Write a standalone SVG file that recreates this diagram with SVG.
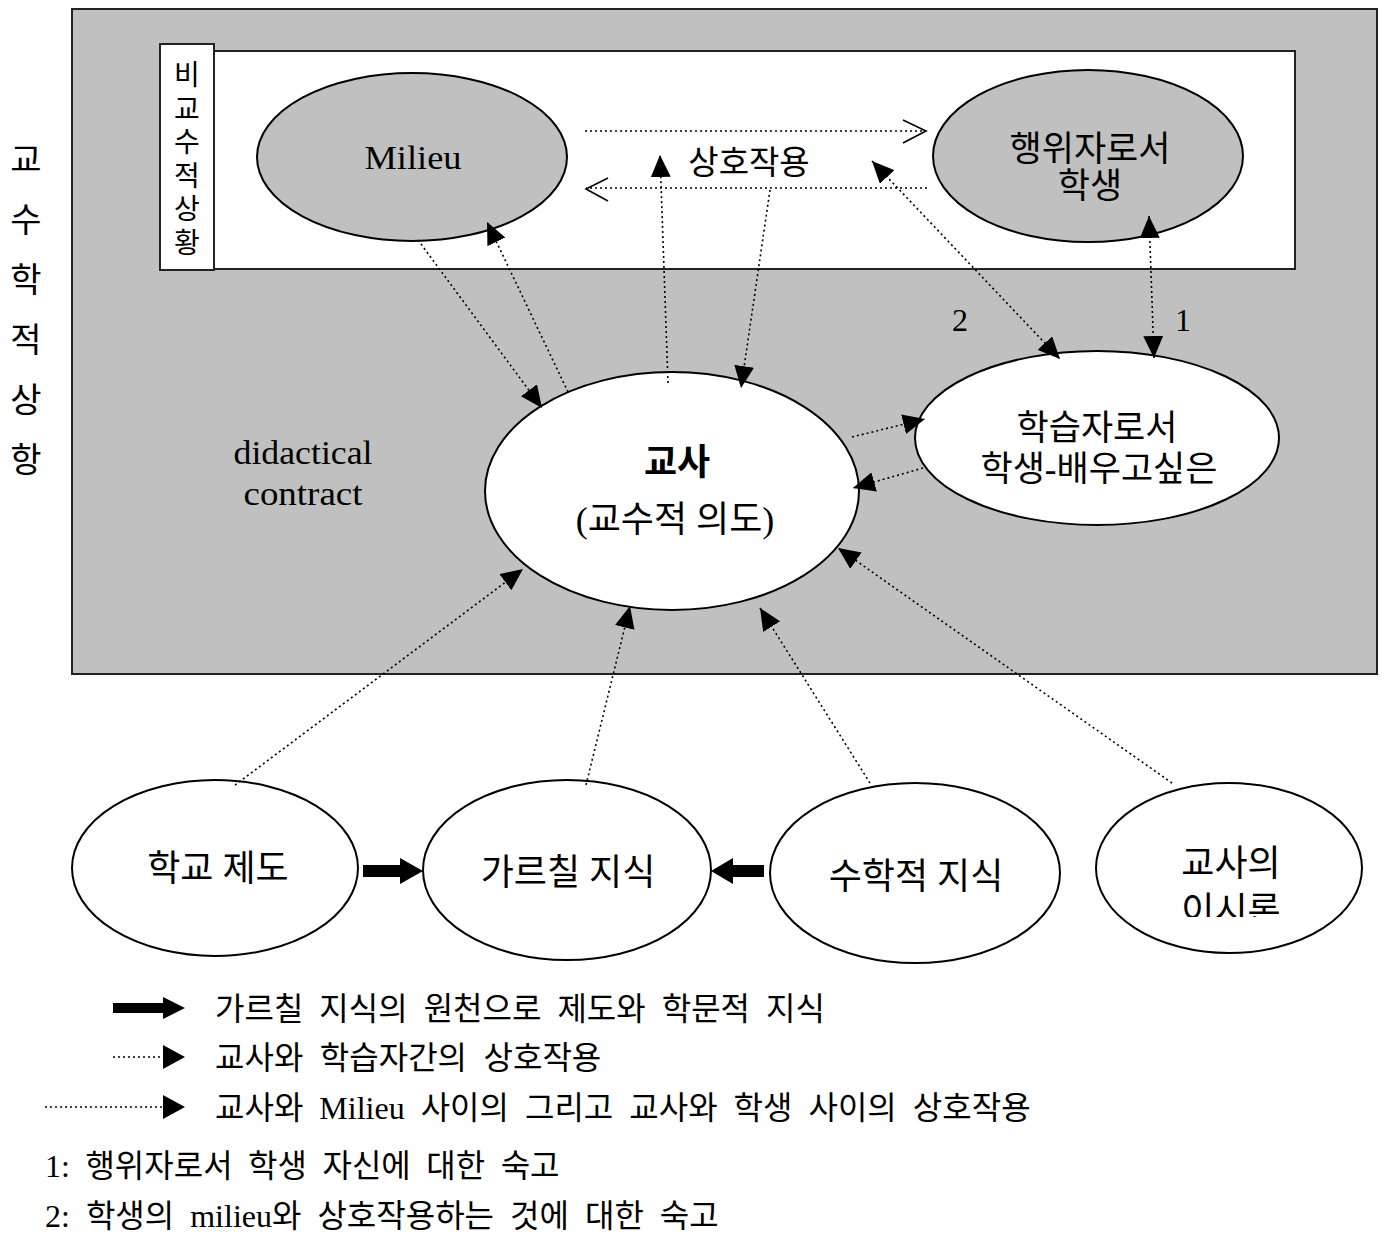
<svg xmlns="http://www.w3.org/2000/svg" width="1385" height="1239" viewBox="0 0 1385 1239">
<style>
text{font-family:"Liberation Serif","Noto Sans CJK KR",serif;fill:#000}
.t32{font-size:32px}
.t34{font-size:34px}
.t35{font-size:35px}
.t36{font-size:36px}
.mid{text-anchor:middle}
.dot{fill:none;stroke:#000;stroke-width:1.6;stroke-dasharray:2 3}
.ell{stroke:#000;stroke-width:2}
.g{fill:#c0c0c0}
.w{fill:#fff}
.solid{fill:#000;stroke:none}
.open{fill:none;stroke:#000;stroke-width:1.6}
.vt{font-size:28px;text-anchor:middle}
</style>
<defs>
<marker id="ah" viewBox="0 0 22 20" refX="22" refY="10" markerWidth="22" markerHeight="20" markerUnits="userSpaceOnUse" orient="auto-start-reverse">
<path d="M0,0 L22,10 L0,20 z" fill="#000"/>
</marker>
<clipPath id="clipR"><rect x="1100" y="880" width="260" height="37"/></clipPath>
</defs>
<rect width="1385" height="1239" fill="#fff"/>

<g id="title-left">
<text class="t34 mid" x="26" y="172">교</text>
<text class="t34 mid" x="26" y="232">수</text>
<text class="t34 mid" x="26" y="292">학</text>
<text class="t34 mid" x="26" y="352">적</text>
<text class="t34 mid" x="26" y="412">상</text>
<text class="t34 mid" x="26" y="472">항</text>
</g>

<g id="didactic-situation">
<rect x="72" y="9" width="1305" height="665" fill="#c0c0c0" stroke="#222" stroke-width="2"/>
</g>

<g id="adidactic-situation">
<rect x="213" y="51" width="1082" height="218" fill="#fff" stroke="#222" stroke-width="2"/>
<rect x="160" y="44" width="54" height="226" fill="#fff" stroke="#222" stroke-width="2"/>
<text class="vt" x="187" y="85">비</text>
<text class="vt" x="187" y="118.5">교</text>
<text class="vt" x="187" y="152">수</text>
<text class="vt" x="187" y="185.5">적</text>
<text class="vt" x="187" y="219">상</text>
<text class="vt" x="187" y="252.5">황</text>
</g>

<g id="milieu">
<ellipse class="ell g" cx="412" cy="157" rx="155" ry="84"/>
<text class="mid" style="font-size:34px" x="413" y="169" textLength="97" lengthAdjust="spacingAndGlyphs">Milieu</text>
</g>

<g id="student-actor">
<ellipse class="ell g" cx="1088" cy="156" rx="155" ry="86"/>
<text class="t35 mid" x="1090" y="160.5">행위자로서</text>
<text class="t35 mid" x="1090" y="197.5">학생</text>
</g>

<g id="interaction-label">
<text class="mid" style="font-size:33px" x="749" y="174">상호작용</text>
</g>

<g id="didactical-contract">
<text class="mid" style="font-size:34px" x="303" y="464" textLength="139" lengthAdjust="spacingAndGlyphs">didactical</text>
<text class="mid" style="font-size:34px" x="303" y="505" textLength="119" lengthAdjust="spacingAndGlyphs">contract</text>
</g>

<g id="teacher">
<ellipse class="ell w" cx="672" cy="491" rx="187" ry="119"/>
<text class="t36 mid" x="677" y="475" font-weight="bold">교사</text>
<text class="t36 mid" x="675" y="532">(교수적 의도)</text>
</g>

<g id="student-learner">
<ellipse class="ell w" cx="1097" cy="438" rx="182" ry="87"/>
<text class="t35 mid" x="1097" y="439.5">학습자로서</text>
<text class="t35 mid" x="1099" y="480.5">학생-배우고싶은</text>
</g>

<g id="labels-1-2">
<text class="t32 mid" x="960" y="331">2</text>
<text class="t32 mid" x="1183" y="331">1</text>
</g>

<g id="school-system">
<ellipse class="ell w" cx="215" cy="868" rx="143" ry="88"/>
<text class="t36 mid" x="218" y="881">학교 제도</text>
</g>

<g id="knowledge-to-teach">
<ellipse class="ell w" cx="567" cy="870" rx="144" ry="90"/>
<text class="t36 mid" x="568" y="885">가르칠 지식</text>
</g>

<g id="math-knowledge">
<ellipse class="ell w" cx="915" cy="873" rx="145" ry="90"/>
<text class="t36 mid" x="916" y="889">수학적 지식</text>
</g>

<g id="teacher-epistemology">
<ellipse class="ell w" cx="1229" cy="868" rx="133" ry="85"/>
<text class="t36 mid" x="1231" y="876">교사의</text>
<text class="t36 mid" x="1231" y="923" clip-path="url(#clipR)">이시론</text>
</g>

<g id="connectors">
<path class="dot" d="M418,240 L542,408" marker-end="url(#ah)"/>
<path class="dot" d="M568,392 L487,222" marker-end="url(#ah)"/>
<path class="dot" d="M668,383 L660,155" marker-end="url(#ah)"/>
<path class="dot" d="M770,190 L741,388" marker-end="url(#ah)"/>
<path class="dot" d="M585,131 L926,131"/>
<polyline class="open" points="903,120 926,131 903,143"/>
<path class="dot" d="M927,188 L586,188"/>
<polyline class="open" points="608,178 586,189 608,201"/>
<path class="dot" d="M872,161 L1060,359" marker-start="url(#ah)" marker-end="url(#ah)"/>
<path class="dot" d="M1149,216 L1154,358" marker-start="url(#ah)" marker-end="url(#ah)"/>
<path class="dot" d="M852,437 L925,419" marker-end="url(#ah)"/>
<path class="dot" d="M923,468 L853,488" marker-end="url(#ah)"/>
<path class="dot" d="M235,785 L523,569" marker-end="url(#ah)"/>
<path class="dot" d="M586,785 L630,606" marker-end="url(#ah)"/>
<path class="dot" d="M870,783 L760,608" marker-end="url(#ah)"/>
<path class="dot" d="M1172,783 L838,548" marker-end="url(#ah)"/>
<path class="solid" d="M363,865 H400 V858 L423,871 L400,884 V877 H363 Z"/>
<path class="solid" d="M764,865 H733 V858 L711,871 L733,884 V877 H764 Z"/>
</g>

<g id="legend">
<path class="solid" d="M113,1003 H163 V997 L185,1008 L163,1019 V1013 H113 Z"/>
<text class="t32" x="215" y="1019.5" word-spacing="8">가르칠 지식의 원천으로 제도와 학문적 지식</text>
<path class="dot" d="M113,1057 L163,1057"/>
<path class="solid" d="M163,1045 L185,1057 L163,1069 Z"/>
<text class="t32" x="215" y="1068.5" word-spacing="8.5">교사와 학습자간의 상호작용</text>
<path class="dot" d="M45,1107 L163,1107"/>
<path class="solid" d="M163,1095 L185,1107 L163,1119 Z"/>
<text class="t32" x="215" y="1118.5" word-spacing="8">교사와 Milieu 사이의 그리고 교사와 학생 사이의 상호작용</text>
<text class="t32" x="45" y="1176.5" word-spacing="7.5">1: 행위자로서 학생 자신에 대한 숙고</text>
<text class="t32" x="45" y="1226.5" word-spacing="8">2: 학생의 milieu와 상호작용하는 것에 대한 숙고</text>
</g>
</svg>
